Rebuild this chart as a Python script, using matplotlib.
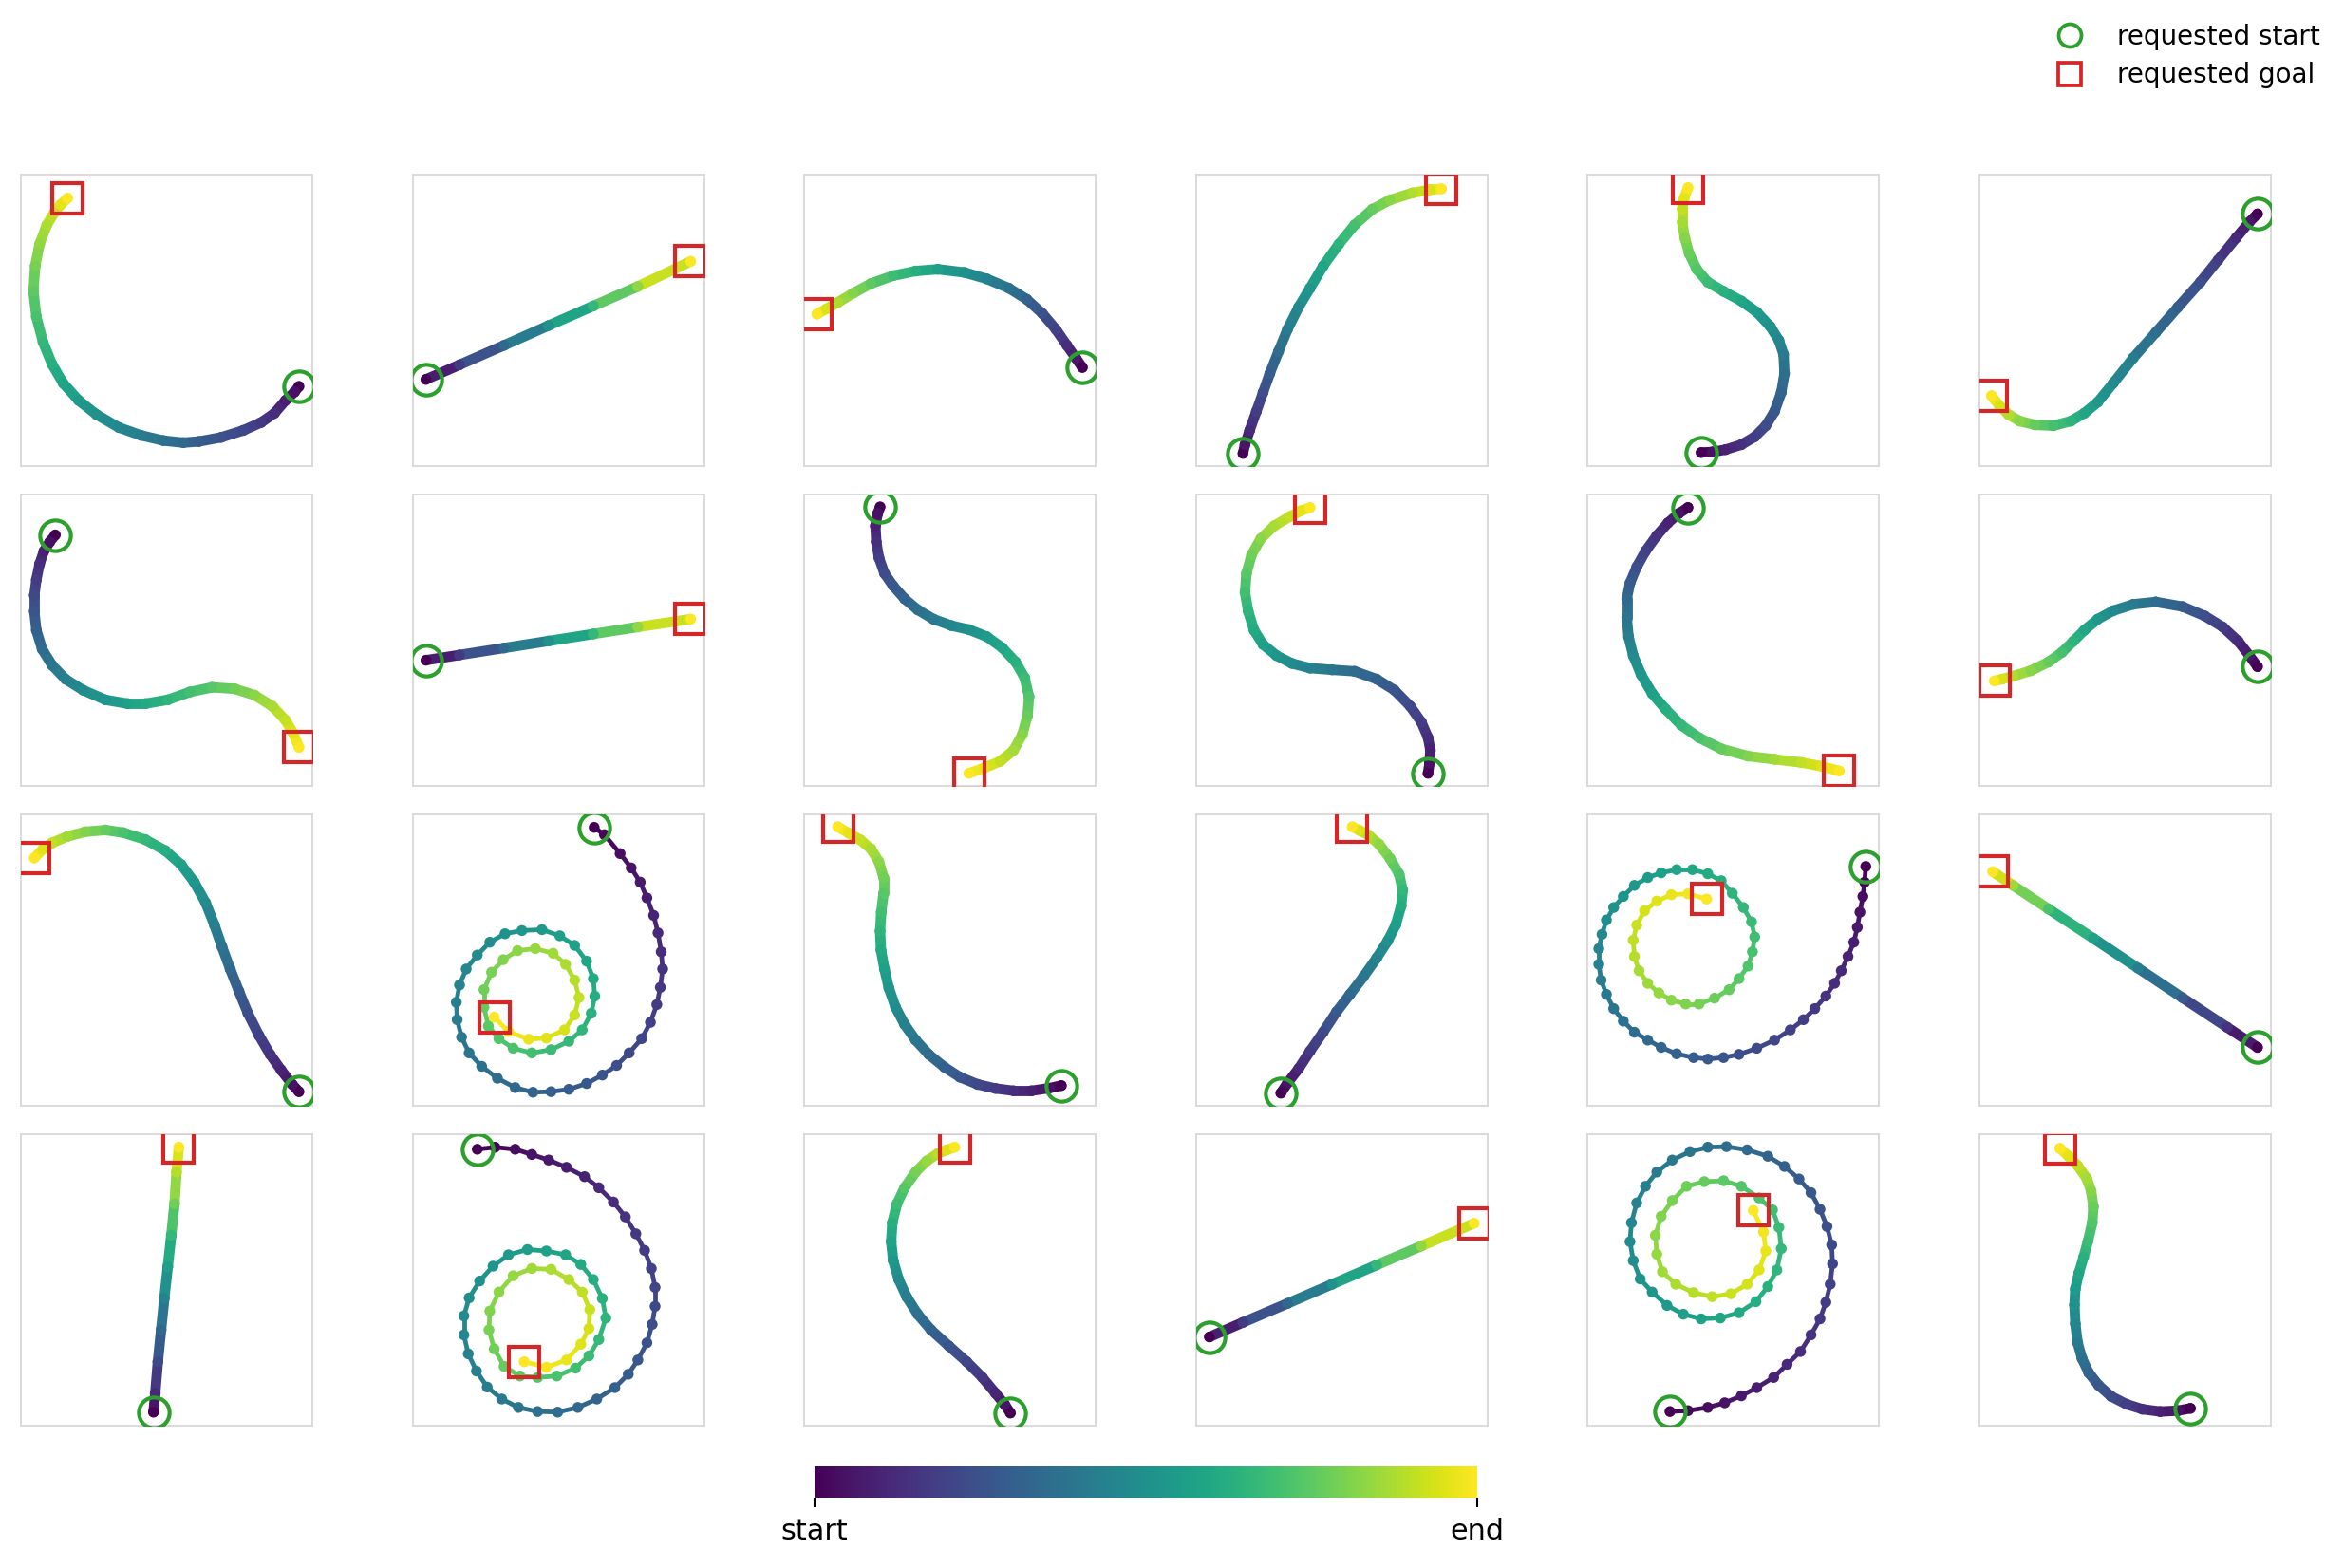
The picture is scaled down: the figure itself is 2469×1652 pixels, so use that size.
import numpy as np
import matplotlib
matplotlib.use("Agg")
import matplotlib.pyplot as plt
from matplotlib.collections import LineCollection
from matplotlib.lines import Line2D

# ---------------- data: trajectories in panel-normalised coords (x right, y up) ----------------
P00 = [(0.954, 0.274), (0.939, 0.255), (0.908, 0.226), (0.870, 0.182), (0.824, 0.150), (0.763, 0.123),
       (0.687, 0.099), (0.611, 0.085), (0.557, 0.081), (0.489, 0.088), (0.412, 0.106), (0.336, 0.133),
       (0.260, 0.177), (0.198, 0.226), (0.145, 0.285), (0.107, 0.350), (0.076, 0.426), (0.053, 0.513),
       (0.043, 0.600), (0.049, 0.687), (0.064, 0.762), (0.089, 0.828), (0.115, 0.871), (0.137, 0.898),
       (0.160, 0.920)]
P01 = [(0.046, 0.298), (0.161, 0.348), (0.314, 0.415), (0.467, 0.483), (0.620, 0.550), (0.773, 0.617),
       (0.954, 0.703)]
P02 = [(0.954, 0.339), (0.931, 0.372), (0.901, 0.415), (0.863, 0.470), (0.817, 0.524), (0.763, 0.573),
       (0.702, 0.611), (0.626, 0.643), (0.550, 0.665), (0.458, 0.676), (0.382, 0.670), (0.305, 0.654),
       (0.229, 0.627), (0.168, 0.594), (0.115, 0.562), (0.076, 0.540), (0.043, 0.522)]
P03 = [(0.161, 0.044), (0.168, 0.074), (0.184, 0.123), (0.207, 0.188), (0.230, 0.253), (0.253, 0.318),
       (0.283, 0.394), (0.314, 0.470), (0.352, 0.546), (0.391, 0.611), (0.436, 0.687), (0.490, 0.762),
       (0.544, 0.828), (0.605, 0.882), (0.666, 0.914), (0.743, 0.938), (0.804, 0.949), (0.842, 0.952)]
P04 = [(0.389, 0.047), (0.427, 0.049), (0.473, 0.057), (0.527, 0.074), (0.573, 0.101), (0.611, 0.139),
       (0.641, 0.188), (0.664, 0.253), (0.675, 0.318), (0.672, 0.383), (0.656, 0.432), (0.626, 0.480),
       (0.580, 0.529), (0.527, 0.567), (0.466, 0.600), (0.412, 0.632), (0.374, 0.676), (0.348, 0.730),
       (0.333, 0.784), (0.324, 0.838), (0.324, 0.882), (0.331, 0.920), (0.344, 0.956)]
P05 = [(0.954, 0.866), (0.926, 0.838), (0.881, 0.784), (0.819, 0.708), (0.758, 0.632), (0.681, 0.546),
       (0.605, 0.459), (0.528, 0.372), (0.459, 0.285), (0.406, 0.220), (0.360, 0.182), (0.314, 0.155),
       (0.253, 0.139), (0.191, 0.142), (0.138, 0.155), (0.100, 0.177), (0.069, 0.207), (0.041, 0.242)]

P10 = [(0.118, 0.862), (0.099, 0.838), (0.079, 0.806), (0.064, 0.762), (0.053, 0.708), (0.046, 0.654),
       (0.046, 0.600), (0.053, 0.535), (0.073, 0.470), (0.107, 0.415), (0.153, 0.367), (0.214, 0.329),
       (0.290, 0.296), (0.366, 0.283), (0.427, 0.283), (0.504, 0.296), (0.580, 0.323), (0.656, 0.339),
       (0.733, 0.334), (0.802, 0.312), (0.863, 0.274), (0.908, 0.226), (0.934, 0.182), (0.954, 0.133)]
P11 = [(0.046, 0.432), (0.161, 0.450), (0.314, 0.474), (0.467, 0.498), (0.620, 0.522), (0.773, 0.546),
       (0.954, 0.573)]
P12 = [(0.260, 0.958), (0.252, 0.936), (0.244, 0.893), (0.247, 0.838), (0.256, 0.784), (0.275, 0.730),
       (0.305, 0.687), (0.344, 0.643), (0.389, 0.605), (0.443, 0.573), (0.504, 0.551), (0.565, 0.537),
       (0.626, 0.513), (0.679, 0.475), (0.725, 0.426), (0.756, 0.372), (0.771, 0.307), (0.766, 0.242),
       (0.748, 0.177), (0.718, 0.123), (0.672, 0.085), (0.618, 0.063), (0.565, 0.044)]
P13 = [(0.796, 0.044), (0.801, 0.079), (0.804, 0.123), (0.796, 0.166), (0.773, 0.220), (0.735, 0.274),
       (0.681, 0.329), (0.620, 0.367), (0.544, 0.394), (0.467, 0.399), (0.391, 0.405), (0.329, 0.421),
       (0.276, 0.448), (0.230, 0.486), (0.199, 0.535), (0.179, 0.600), (0.168, 0.665), (0.173, 0.730),
       (0.191, 0.795), (0.222, 0.849), (0.268, 0.893), (0.322, 0.925), (0.360, 0.945), (0.391, 0.956)]
P14 = [(0.344, 0.956), (0.313, 0.936), (0.275, 0.903), (0.237, 0.860), (0.198, 0.806), (0.168, 0.752),
       (0.145, 0.697), (0.134, 0.643), (0.134, 0.578), (0.140, 0.513), (0.156, 0.448), (0.183, 0.383),
       (0.221, 0.318), (0.267, 0.264), (0.321, 0.209), (0.382, 0.166), (0.458, 0.128), (0.550, 0.103),
       (0.641, 0.092), (0.733, 0.081), (0.802, 0.068), (0.863, 0.052)]
P15 = [(0.954, 0.410), (0.926, 0.448), (0.888, 0.497), (0.835, 0.546), (0.773, 0.584), (0.697, 0.616),
       (0.605, 0.632), (0.528, 0.624), (0.459, 0.602), (0.406, 0.573), (0.360, 0.535), (0.322, 0.497),
       (0.283, 0.459), (0.237, 0.426), (0.176, 0.396), (0.115, 0.377), (0.077, 0.367), (0.051, 0.361)]

P20 = [(0.954, 0.049), (0.931, 0.074), (0.893, 0.123), (0.855, 0.177), (0.817, 0.242), (0.779, 0.318),
       (0.748, 0.394), (0.718, 0.470), (0.690, 0.546), (0.664, 0.621), (0.634, 0.697), (0.595, 0.768),
       (0.550, 0.828), (0.496, 0.876), (0.427, 0.914), (0.351, 0.938), (0.290, 0.947), (0.221, 0.941),
       (0.160, 0.925), (0.107, 0.903), (0.076, 0.882), (0.046, 0.851)]
P21 = [(0.623, 0.956), (0.658, 0.931), (0.712, 0.866), (0.750, 0.817), (0.781, 0.768), (0.804, 0.714),
       (0.827, 0.654), (0.842, 0.594), (0.853, 0.529), (0.858, 0.470), (0.850, 0.407), (0.838, 0.348),
       (0.816, 0.287), (0.786, 0.231), (0.743, 0.182), (0.700, 0.139), (0.651, 0.106), (0.597, 0.077),
       (0.536, 0.057), (0.475, 0.049), (0.413, 0.047), (0.352, 0.063), (0.291, 0.095), (0.237, 0.136),
       (0.194, 0.182), (0.168, 0.236), (0.153, 0.296), (0.150, 0.356), (0.161, 0.415), (0.184, 0.470),
       (0.222, 0.518), (0.265, 0.562), (0.317, 0.591), (0.375, 0.602), (0.444, 0.605), (0.505, 0.584),
       (0.556, 0.551), (0.597, 0.497), (0.620, 0.437), (0.625, 0.377), (0.613, 0.318), (0.582, 0.261),
       (0.536, 0.222), (0.475, 0.193), (0.409, 0.182), (0.345, 0.198), (0.296, 0.231), (0.260, 0.274),
       (0.245, 0.339), (0.245, 0.399), (0.271, 0.459), (0.311, 0.502), (0.360, 0.533), (0.421, 0.540),
       (0.482, 0.524), (0.525, 0.486), (0.556, 0.432), (0.571, 0.372), (0.556, 0.312), (0.521, 0.261),
       (0.459, 0.233), (0.398, 0.229), (0.329, 0.255), (0.280, 0.305)]
P22 = [(0.882, 0.070), (0.840, 0.061), (0.779, 0.052), (0.718, 0.052), (0.656, 0.060), (0.595, 0.074),
       (0.534, 0.099), (0.481, 0.133), (0.427, 0.177), (0.382, 0.226), (0.344, 0.280), (0.313, 0.339),
       (0.290, 0.405), (0.275, 0.470), (0.263, 0.535), (0.260, 0.600), (0.264, 0.665), (0.272, 0.730),
       (0.272, 0.784), (0.256, 0.838), (0.229, 0.882), (0.191, 0.914), (0.153, 0.936), (0.115, 0.958)]
P23 = [(0.291, 0.044), (0.314, 0.079), (0.352, 0.128), (0.391, 0.188), (0.436, 0.253), (0.482, 0.323),
       (0.528, 0.383), (0.574, 0.443), (0.620, 0.508), (0.658, 0.567), (0.685, 0.621), (0.704, 0.687),
       (0.709, 0.741), (0.697, 0.795), (0.666, 0.849), (0.628, 0.898), (0.590, 0.931), (0.562, 0.945),
       (0.536, 0.958)]
P24 = [(0.954, 0.822), (0.950, 0.768), (0.944, 0.719), (0.934, 0.665), (0.925, 0.613), (0.913, 0.562),
       (0.893, 0.513), (0.870, 0.464), (0.847, 0.421), (0.817, 0.377), (0.779, 0.334), (0.740, 0.296),
       (0.695, 0.261), (0.641, 0.226), (0.580, 0.198), (0.519, 0.177), (0.466, 0.166), (0.412, 0.161),
       (0.363, 0.166), (0.305, 0.179), (0.252, 0.201), (0.206, 0.226), (0.160, 0.253), (0.122, 0.291),
       (0.089, 0.334), (0.064, 0.383), (0.046, 0.432), (0.038, 0.486), (0.038, 0.540), (0.049, 0.589),
       (0.064, 0.638), (0.089, 0.681), (0.122, 0.719), (0.160, 0.757), (0.206, 0.784), (0.252, 0.800),
       (0.305, 0.811), (0.359, 0.811), (0.412, 0.797), (0.458, 0.773), (0.496, 0.730), (0.534, 0.681),
       (0.562, 0.632), (0.573, 0.580), (0.565, 0.529), (0.550, 0.480), (0.519, 0.437), (0.485, 0.399),
       (0.435, 0.370), (0.382, 0.350), (0.336, 0.350), (0.287, 0.363), (0.244, 0.388), (0.206, 0.421),
       (0.176, 0.464), (0.160, 0.513), (0.156, 0.569), (0.168, 0.621), (0.195, 0.670), (0.237, 0.703),
       (0.287, 0.725), (0.344, 0.728), (0.408, 0.710)]
P25 = [(0.954, 0.201), (0.850, 0.270), (0.697, 0.371), (0.544, 0.473), (0.391, 0.575), (0.237, 0.676),
       (0.115, 0.757), (0.046, 0.804)]

P30 = [(0.455, 0.047), (0.461, 0.112), (0.470, 0.220), (0.481, 0.329), (0.492, 0.437), (0.504, 0.546),
       (0.516, 0.654), (0.527, 0.762), (0.534, 0.871), (0.542, 0.956)]
P31 = [(0.222, 0.949), (0.283, 0.956), (0.352, 0.949), (0.409, 0.931), (0.467, 0.912), (0.528, 0.887),
       (0.590, 0.855), (0.639, 0.817), (0.689, 0.768), (0.730, 0.717), (0.766, 0.659), (0.796, 0.602),
       (0.819, 0.540), (0.832, 0.475), (0.832, 0.410), (0.822, 0.348), (0.804, 0.285), (0.773, 0.226),
       (0.740, 0.177), (0.694, 0.131), (0.632, 0.092), (0.567, 0.063), (0.498, 0.047), (0.429, 0.049),
       (0.363, 0.063), (0.306, 0.092), (0.256, 0.133), (0.219, 0.188), (0.191, 0.247), (0.176, 0.312),
       (0.176, 0.377), (0.194, 0.439), (0.230, 0.497), (0.276, 0.548), (0.329, 0.587), (0.394, 0.605),
       (0.459, 0.600), (0.525, 0.587), (0.577, 0.554), (0.620, 0.502), (0.651, 0.437), (0.663, 0.370),
       (0.639, 0.296), (0.605, 0.240), (0.559, 0.198), (0.495, 0.171), (0.429, 0.166), (0.368, 0.171),
       (0.314, 0.204), (0.280, 0.264), (0.262, 0.329), (0.265, 0.394), (0.296, 0.459), (0.345, 0.515),
       (0.409, 0.540), (0.475, 0.537), (0.536, 0.502), (0.582, 0.459), (0.608, 0.399), (0.605, 0.334),
       (0.577, 0.280), (0.528, 0.226), (0.459, 0.201), (0.383, 0.220)]
P32 = [(0.707, 0.044), (0.687, 0.074), (0.656, 0.112), (0.611, 0.166), (0.557, 0.220), (0.496, 0.274),
       (0.435, 0.329), (0.389, 0.383), (0.351, 0.443), (0.324, 0.502), (0.305, 0.567), (0.298, 0.632),
       (0.302, 0.697), (0.318, 0.762), (0.344, 0.817), (0.382, 0.871), (0.420, 0.909), (0.458, 0.934),
       (0.489, 0.947), (0.516, 0.956)]
P33 = [(0.046, 0.305), (0.161, 0.355), (0.314, 0.420), (0.467, 0.486), (0.620, 0.552), (0.773, 0.617),
       (0.954, 0.695)]
P34 = [(0.282, 0.049), (0.344, 0.052), (0.412, 0.063), (0.470, 0.079), (0.527, 0.103), (0.580, 0.131),
       (0.638, 0.166), (0.684, 0.211), (0.730, 0.255), (0.766, 0.312), (0.797, 0.367), (0.817, 0.424),
       (0.832, 0.486), (0.840, 0.556), (0.837, 0.621), (0.821, 0.684), (0.797, 0.743), (0.766, 0.800),
       (0.725, 0.847), (0.675, 0.890), (0.618, 0.925), (0.547, 0.947), (0.476, 0.958), (0.412, 0.956),
       (0.351, 0.941), (0.290, 0.912), (0.237, 0.871), (0.198, 0.822), (0.168, 0.765), (0.150, 0.697),
       (0.145, 0.632), (0.156, 0.567), (0.180, 0.504), (0.221, 0.459), (0.272, 0.413), (0.328, 0.383),
       (0.389, 0.367), (0.455, 0.370), (0.519, 0.388), (0.577, 0.426), (0.618, 0.478), (0.649, 0.535),
       (0.664, 0.608), (0.656, 0.681), (0.634, 0.741), (0.588, 0.782), (0.527, 0.822), (0.466, 0.841),
       (0.400, 0.838), (0.339, 0.822), (0.290, 0.773), (0.252, 0.719), (0.232, 0.654), (0.237, 0.589),
       (0.256, 0.529), (0.302, 0.486), (0.363, 0.457), (0.427, 0.443), (0.491, 0.453), (0.547, 0.486),
       (0.588, 0.535), (0.611, 0.600), (0.603, 0.665), (0.568, 0.739)]
P35 = [(0.724, 0.060), (0.681, 0.052), (0.620, 0.049), (0.559, 0.057), (0.505, 0.074), (0.452, 0.101),
       (0.409, 0.139), (0.375, 0.182), (0.352, 0.231), (0.337, 0.285), (0.329, 0.350), (0.326, 0.415),
       (0.329, 0.470), (0.341, 0.524), (0.357, 0.578), (0.372, 0.632), (0.387, 0.697), (0.391, 0.752),
       (0.383, 0.806), (0.368, 0.849), (0.337, 0.893), (0.306, 0.925), (0.276, 0.952)]

PATHS = [P00, P01, P02, P03, P04, P05,
         P10, P11, P12, P13, P14, P15,
         P20, P21, P22, P23, P24, P25,
         P30, P31, P32, P33, P34, P35]
CBAR_TICK_LABELS = ["start", "end"]
LEGEND_LABELS = ["requested start", "requested goal"]

# ---------------- styling / layout ----------------
W, H = 2469, 1652
DPI = 150
SPARSE = {13, 16, 19, 22}          # panels whose individual samples are visible
GREEN, RED = "#2ca02c", "#d62728"
cmap = plt.get_cmap("viridis")

fig = plt.figure(figsize=(W / DPI, H / DPI), dpi=DPI)

col_left = [22.0 + 412.6 * i for i in range(6)]
row_top = [184.2 + 337.0 * j for j in range(4)]
size = 307.0

for k, pts in enumerate(PATHS):
    r, c = divmod(k, 6)
    ax = fig.add_axes([col_left[c] / W, 1 - (row_top[r] + size) / H, size / W, size / H])
    xy = np.asarray(pts, dtype=float)
    t = np.linspace(0, 1, len(xy))
    segs = np.stack([xy[:-1], xy[1:]], axis=1)
    segc = cmap((t[:-1] + t[1:]) / 2)
    lw = 2.3 if k in SPARSE else 5.2
    lc = LineCollection(segs, colors=segc, linewidths=lw, capstyle="round",
                        joinstyle="round", zorder=2)
    ax.add_collection(lc)
    ax.scatter(xy[:, 0], xy[:, 1], c=t, cmap=cmap, vmin=0, vmax=1, s=30,
               linewidths=0, zorder=3)
    ax.plot(xy[0, 0], xy[0, 1], marker="o", ms=15.5, mfc="none", mec=GREEN,
            mew=2.0, ls="none", zorder=4)
    ax.plot(xy[-1, 0], xy[-1, 1], marker="s", ms=15.5, mfc="none", mec=RED,
            mew=2.0, ls="none", zorder=4)
    ax.set_xlim(0, 1)
    ax.set_ylim(0, 1)
    ax.set_xticks([])
    ax.set_yticks([])
    for s in ax.spines.values():
        s.set_color("#d9d9d9")
        s.set_linewidth(0.9)

# colorbar
cax = fig.add_axes([858.2 / W, 1 - 1577.8 / H, 697.5 / W, 33.0 / H])
sm = plt.cm.ScalarMappable(cmap=cmap, norm=plt.Normalize(0, 1))
cb = fig.colorbar(sm, cax=cax, orientation="horizontal")
cb.set_ticks([0, 1])
cb.set_ticklabels(CBAR_TICK_LABELS)
cb.outline.set_visible(False)
cax.tick_params(labelsize=14.5, length=5, width=1.0, pad=5)

# legend
handles = [
    Line2D([], [], marker="o", ls="none", ms=11.5, mfc="none", mec=GREEN, mew=1.8),
    Line2D([], [], marker="s", ls="none", ms=11.5, mfc="none", mec=RED, mew=1.8),
]
fig.legend(handles, LEGEND_LABELS, loc="upper right", bbox_to_anchor=(1.0, 1.0),
           frameon=False, fontsize=13.3, labelspacing=0.45)

fig.savefig("out.png", dpi=DPI)
